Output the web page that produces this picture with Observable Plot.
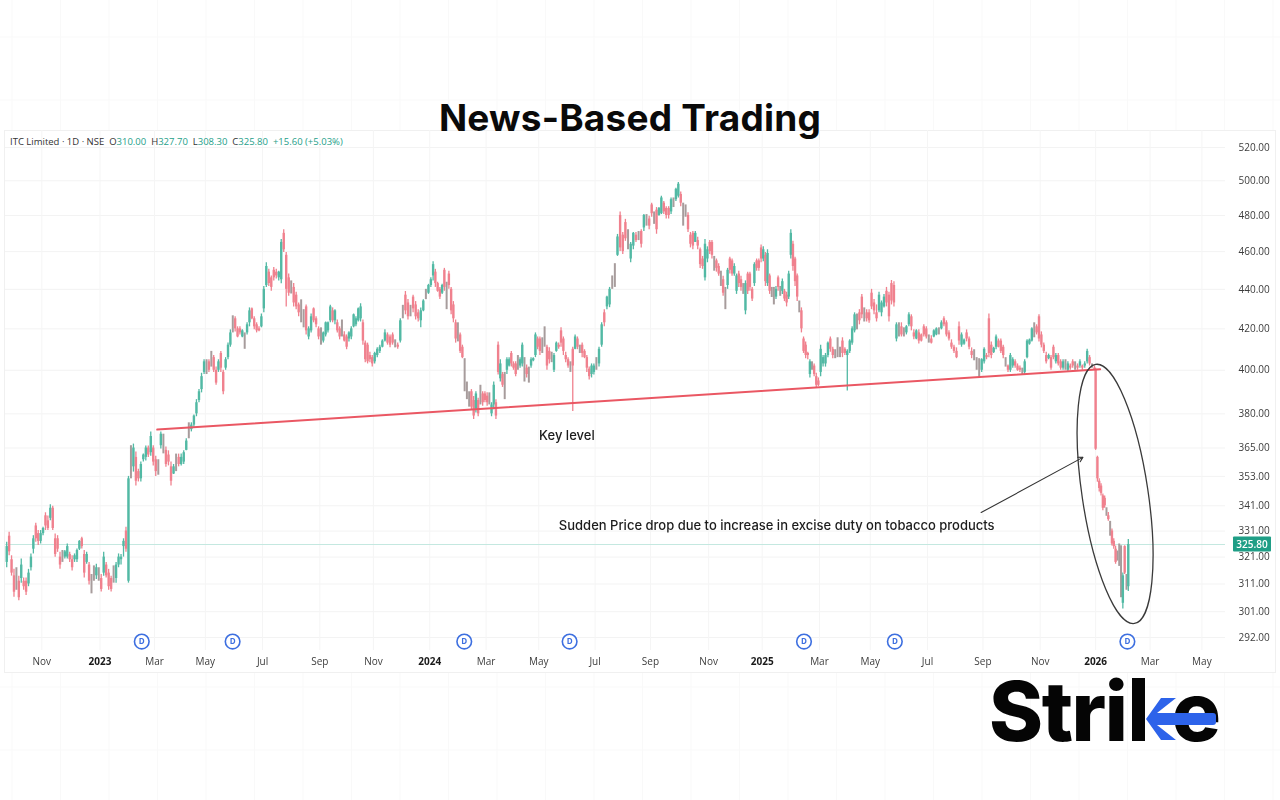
<!DOCTYPE html>
<html>
<head>
<meta charset="utf-8">
<script src="https://cdn.jsdelivr.net/npm/d3@7"></script>
<script src="https://cdn.jsdelivr.net/npm/@observablehq/plot@0.6"></script>
<style>
html,body{margin:0;padding:0;background:#fff;}
#wrap{position:relative;width:1280px;height:800px;overflow:hidden;}
#chart{filter:blur(.3px);}
#title{position:absolute;left:0;width:1260px;top:95px;text-align:center;font:700 37px Inter,sans-serif;color:#0a0a0a;letter-spacing:.2px;}
#legend{position:absolute;left:10px;top:135px;font:500 9.5px "Open Sans",sans-serif;color:#333;white-space:pre;}
#legend b{font-weight:500;color:#26a08a;}
</style>
</head>
<body>
<div id="wrap">
<div id="chart"></div>
<div id="title">News-Based Trading</div>
<div id="legend">ITC Limited · 1D · NSE  O<b>310.00</b>  H<b>327.70</b>  L<b>308.30</b>  C<b>325.80</b>  <b>+15.60 (+5.03%)</b></div>
</div>
<script>
// Each row: open, high, low, close. Open equal to close marks a candle too mixed to read a direction.
const sepDec2022=[[319,326.7,317,325],[329,330.5,321.5,323],[320,321.5,313.9,315],[314,316.4,306.2,308],[313,317,308.7,313],[312,313.8,304.9,306],[313,320.3,311.3,318],[312,313.2,308.7,310],[312,313.2,306.8,308],[311,316.4,310,315],[317,322.2,315.8,321],[324,329.2,322.2,328],[333,334.1,326.7,328],[330,331.2,325.4,327],[327,331.2,326,330],[330,332.5,329.2,332],[337,338.2,331.2,333],[335,336.9,331.2,332],[336,341.4,335,340],[340,340.8,331.2,332],[328,329.9,320.9,322],[328,329.2,322.8,324],[321,322.8,316.4,318],[321,323.5,319,321],[321,323.5,320.3,323],[321,326,320.3,325],[322,322.8,319,320],[320,321.5,315.8,317],[320,322.2,319,321.5],[320,324.1,319,323.5],[324,327.3,323.5,327],[328,328.6,324.1,325],[322,323.5,313.2,315],[319,322.8,318.3,322],[318,319,310.6,312],[311,314.5,307.4,311],[315,317.7,312,315],[314,318.3,312.6,317],[315,317,312,315]];
const janFeb2023=[[313,314.5,308.1,309],[315,322.8,313.8,321],[318,319,313.2,314],[315,316.4,308.7,310],[313,313.8,308.1,309],[314,317.7,311.3,314],[313,319,311.3,318],[318,322.2,317,321],[320,322,318,321],[325,328,321,327],[331,332.5,322.8,324],[312,353,311.3,352],[360,366,352,360],[357,366.7,354.8,365],[361,363.3,349,351],[355,356,350.7,352],[352,359,350.7,358],[360,362.4,359,362],[361,365.9,359.5,365],[365,365.9,361,362],[363,372,361.5,370],[365,366,357.4,359]];
const marApr2023=[[360,361.5,353,355],[357,360,353.5,357],[366,372,364.6,371],[367,371,362.5,367],[364,365.4,356.8,358],[362,363.8,357.4,359],[357,359,349,351],[354,358,353.8,357],[359,362.4,355,359],[361,362.4,357,358],[358,362.4,357.4,361],[359,363.8,358,363],[364,369,363.8,368],[371,376,369,371],[373,376,372,375],[375,379.5,374,379],[380,386.4,378.7,385],[386,391,385,390],[391,398.6,389.5,397],[399,405,398,404]];
const mayJun2023=[[402,405,398,402],[404,405,399,400],[405,409,401.5,405],[406,407,399,400],[400,401.5,393,394],[400,405,399,404],[408,409,399,401],[399,400,388.6,390],[401,406,400,405],[406,413,405,412],[412,419.5,411,418],[422,426.5,418,422],[425,426,418.5,420],[420,421,415.6,416],[420,421,417,418],[416,419.5,415.6,419],[414,418,410,414],[418,423,417,422],[423,430.5,421,429],[430,430.5,424.5,425],[425,426,419.5,421],[422,423,418,419],[420,421,418.6,419],[421,427.4,420.5,426]];
const julAug2023=[[430,441.5,428,440],[442,454,441,452],[449,450.5,441.5,443],[446,447,439,441],[450,451.5,444.4,446],[449,450.5,445.4,447],[446,449.5,444.4,449],[445,466.6,442.9,465],[470,472,459.5,461],[458,459.5,431,440],[446,448,436.4,438],[441,444.4,437.6,441],[441,443,431,433],[437,438.5,429.6,431],[432,433,426,428],[429,434.6,423,429],[425,429.6,420.5,425],[431,432,417,419],[416,421,414.6,420],[419,427.4,418,426],[430,430.5,423,424],[425,426,420.5,422],[420,421,414.6,416]];
const sepOct2023=[[416,420.5,412,416],[414,418.5,413,418],[417,423.4,416,423],[419,423.4,418,423],[424,431.8,423,431],[429,430.5,423,424],[424,429.6,422,429],[423,424.4,418,419],[420,421,414.6,416],[420,424.4,416,420],[417,418.6,413.6,414],[416,417,409.8,411],[415,418.6,413.6,418],[416,421,414.6,420],[421,427.4,420.5,427],[422,426,421,425],[424,430.5,423.4,430],[425,432.6,423.4,431],[423,424.4,412,414],[413,414,403.6,405],[412,413,403,404],[407,408.6,403.6,405],[406,407,401.5,403]];
const novDec2023=[[404,408.6,403,408],[407,410.7,406,410],[409,412,408,411],[411,414.6,410.7,414],[414,419.5,413.6,418],[417,418,412,413],[416,417,410.7,412],[417,418,412,413],[412,414.6,410.7,412],[412,413,410,411],[414,425,413,424],[428,431.8,425,428],[437,438.9,427,429],[433,434.8,424.4,426],[428,431.8,426,428],[436,437,428,430],[432,433.7,424.4,426],[428,429.6,423.4,425],[424,430.5,420.5,429],[429,434.7,428.5,434],[436,440,434.7,436],[438,442.6,437.4,442]];
const janFeb2024=[[442,446,441,445],[447,454.6,444.4,453],[449,450.5,441,443],[443,443.7,438.5,439],[440,441,434.8,436],[438,442.6,437.4,442],[450,451,439,441],[435,443.7,429.6,435],[448,449.5,440,442],[440,441,427,429],[432,433.7,423,425],[423,424.4,413,415],[417,423,413.6,417],[417,418,408,409],[411,412,405.5,406],[398,405.5,390,398],[390,394.5,386.4,390],[386,390,383,386],[390,391,381.8,383],[386,387.8,377.5,379],[382,390,380.4,389],[386,387,378.7,380],[388,393,384,388],[389,390,383.4,385],[389,390,385,386]];
const marApr2024=[[388,389.5,383.4,385],[387,389.5,384,387],[380,385,378.7,384],[384,394.5,381.8,393],[385,386.4,377.5,379],[412,413.6,397.8,399],[396,405,394.5,403],[398,399,392,393],[392,399,386.4,392],[400,406,398,405],[402,406,401.5,405],[408,409,401.5,403],[403,404,400,401],[403,404,397,398],[403,407,400,403],[402,406,401,405],[403,413,401.5,412],[400,406,394.5,400],[401,402.5,396.4,398],[398,401.5,394,398],[402,406,401,405],[404.5,406,404,405.5],[407,418,406,417],[415,416,409.8,411]];
const mayJun2024=[[415,416,407,409],[412,415.6,408,412],[416,421,411,416],[411,412,400,402],[409,410.7,403,405],[406,408.6,403.6,406],[400,408,399,407],[409,413.6,408.6,413],[412,413,410,411],[419,420.5,411,413],[415,416,407,409],[407,408.6,403.6,405],[405,406,401,402],[402,404,399,402],[410,411,381,402],[410,417,409.8,416],[415,416,409.8,411],[410,412,408,410],[412,413,406,408],[409,409.8,405.5,406],[406,407,399,401],[400.5,401.5,395.4,397],[398,403,396.4,402],[399,403,397.8,402]];
const julAug2024=[[403,406,400,403],[403,411,401.5,410],[412,423,411,422],[428,429.6,421,423],[431,436.4,429.6,436],[432,441,430.6,440],[443,447,440,443],[447,453.5,441,447],[458,469.4,457.4,468],[480,482,460,462],[469,470.5,458.4,460],[476,477.8,465.6,467],[466,472,461,466],[456,465,454,464],[463,470.5,461,470],[469,470.5,465,466],[468,471,466,468],[471,472,462,464],[473,480.5,471,480],[477,480.5,474,477],[478,479.5,472,474]];
const sepOct2024=[[486,487,479,481],[478,482,475,478],[483,484.5,469.5,472],[480,484.5,479.5,484],[481,491,480.5,490],[487,488,480.5,482],[484,485,478,480],[484,485,478,480],[482,490,480.5,489],[487,490,484.5,487],[489,495.6,488,495],[491,499,490,498],[492,493.4,485,487],[480,487,474,480],[483,486,479,483],[480,481.6,470.5,472],[469,470.5,462,464],[470,471,461,463],[465,471,465,470],[466,467.8,461,463],[461,462,451,453],[456,457.4,450.5,452],[446,466.6,444.4,464],[456,462.6,454,461]];
const novDec2024=[[465,466,458.4,460],[465,466,456,458],[453,457.4,449.5,453],[455,456,449,451],[452,453.5,446.8,448],[445,449.5,441.5,445],[445,446.8,436.4,438],[435,441,429.6,435],[442,451,440,450],[456,457,448,450],[455,456,446.8,448],[448,453.5,446.8,452],[439,448,437.4,447],[448,449.5,441,443],[445,446.8,439,441],[440,443,437.4,440],[429,444.4,427,443],[448,449,437.4,439],[448,449,439,441],[440,441,433.7,435],[443,454,441.5,453],[455,456,449.5,451],[455,456,449.5,451],[462,463.6,454,456]];
const janFeb2025=[[456,462.6,454.6,461],[458,459.5,441.5,444],[443,461,441.5,459],[447,448,437.4,439],[438,441,435.8,438],[436,441,432,436],[436,441.5,434.8,440],[446,447,439,441],[439,441.5,436.4,439],[439,445.4,437.4,444],[439,440,433.7,435],[437,438.5,431,433],[436,449.5,434.8,448],[458,472,456,470],[464,465.6,449.5,452],[456,457,441.5,444],[447,448,433.7,436],[431,434,428,431],[429,430.5,418,420],[415,416,408,409],[412,413.6,405.5,407],[408,408.6,405,407],[398,405,396.4,404],[402,404,400,402],[402,403,397,398],[397,398.6,392,393],[395,396.4,392.4,393]];
const marApr2025=[[399,412,397,410],[403,407,401.5,406],[403,408,401.5,407],[407,413.6,406,413],[415,416,408.6,410],[410,411,405.5,407],[407,409.8,405.5,407],[410,415.6,406,410],[408,411,406,408],[414,415.6,406,408],[410,410.7,407,408],[407,409.8,390.4,409],[409,414.6,408,414],[413,421,412,420],[419,428,418,427],[423,427.4,419.5,423],[428,429.6,422,424],[436,437.4,425,427],[427,430.5,423.4,427],[428,429.6,423.4,425],[428,429.6,422.8,424]];
const mayJun2025=[[438,440,429.6,431],[433,434.8,427,429],[428,432,423.4,425],[429,438.5,428,437],[428,434,426,433],[431,437.4,430.5,436],[439,441,431,433],[437,438.5,423.4,426],[443,444.6,432,434],[442,444,431,433],[415,423,413.6,422],[419,423,416,419],[421,423,416,417],[418,420.5,416,418],[418,421.6,417,421],[422,428,421,427],[426,427,419,421],[418,419.5,414.6,416],[415,419.5,414.6,419],[418,419.5,412.6,414],[417,417.5,413.6,414],[421,422,416,417],[420,421,415,416]];
const julAug2025=[[415,417,413,415],[415,416.6,412.6,413],[416,419.5,415.6,419],[417,420.5,416.6,420],[419,420.5,417,419],[420,424,419.5,423],[425,426,421,422],[423,424,416,417],[418,419,414,415],[413,414.6,410,411],[411,412,408,409],[409,410.7,405.5,406],[421,423.4,412,414],[412,418,411,417],[412.5,415,412,414.5],[418,419.5,413.6,415],[415,416,409.8,411],[409,410.7,405.5,407],[407,409.8,404.5,407],[403,406,400,403],[401,405.5,396.4,401],[400,405.5,399,405]];
const sepOct2025=[[404,410.7,403,410],[407,408,405,406],[425,427.4,406,408],[412,413.6,405.5,407],[408.5,411,408,410.5],[411,417,409.8,416],[414,415,410.7,411],[414,415,408,409],[411,412,405.5,407],[404,406,401.5,404],[402,402.5,399,400],[400,408,399,407],[402,406,401,405],[404,405,401,402],[402,403,399.5,400],[401,402,399,400],[399,401,397.8,399],[399,405,397.8,404],[406,414.6,405.5,414],[412.5,415,412,414.5],[414,420.5,413.6,420],[419,423,415.6,419],[421,422,417,418],[426,427,413.6,415]];
const novDec2025=[[417,418.5,410.7,412],[412,413,408,409],[407,408.6,403,404],[405.5,407.7,405,407],[406,407,400,401],[411,412,405,406],[404,408,403,407],[407,408,402,403],[404,405,400,401],[401,405,400,404],[402,405,400,402],[400,404,399,403],[402,403,400,401],[404,405,401,402],[402,404,400,402],[402,403,400,401],[402,405,401,404],[402,402.5,400,401],[402,404,401,403],[404,410,403,409],[406,407,402,403],[402,403,401,402],[401,402,400,400.5]];
const janFeb2026=[[400,401,364,364.5],[361,361.5,350.6,352],[351,352,346.6,348],[349,350,345,346],[345,345.8,339,340],[344,345,340,341],[338,340.2,336.8,338],[337,338.3,334.8,335.5],[332,334.8,329,332],[331,331.8,325.2,326],[327,328,324,325],[324,325.2,318.3,319],[321,323.3,319.5,321],[322,326,317.5,322],[311,325.3,306,311],[304,315,302,314],[325,325.3,314.5,315],[311,314.5,308.7,311],[310,327.7,308.3,325.8]];

const segments=[
 ["2022-09-19","2023-01-01",sepDec2022],["2023-01-01","2023-03-02",janFeb2023],["2023-03-02","2023-04-27",marApr2023],
 ["2023-04-27","2023-06-29",mayJun2023],["2023-06-29","2023-08-31",julAug2023],["2023-08-31","2023-10-29",sepOct2023],
 ["2023-10-29","2023-12-30",novDec2023],["2023-12-30","2024-03-01",janFeb2024],["2024-03-01","2024-04-28",marApr2024],
 ["2024-04-28","2024-06-29",mayJun2024],["2024-06-29","2024-08-29",julAug2024],["2024-08-29","2024-11-01",sepOct2024],
 ["2024-11-01","2024-12-30",novDec2024],["2024-12-30","2025-03-03",janFeb2025],["2025-03-03","2025-04-28",marApr2025],
 ["2025-04-28","2025-06-30",mayJun2025],["2025-06-30","2025-08-30",julAug2025],["2025-08-30","2025-11-01",sepOct2025],
 ["2025-11-01","2026-01-01",novDec2025],["2025-12-31","2026-02-07",janFeb2026]
];
const priceTicks=[520,500,480,460,440,420,400,380,365,353,341,331,321,311,301,292];
// Tick labels sit on the first session shown for each month.
const monthTicks=[["2022-10-29","Nov"],["2023-03-02","Mar"],["2023-04-27","May"],["2023-06-29","Jul"],["2023-08-31","Sep"],["2023-10-29","Nov"],["2024-03-01","Mar"],["2024-04-28","May"],["2024-06-29","Jul"],["2024-08-29","Sep"],["2024-11-01","Nov"],["2025-03-03","Mar"],["2025-04-28","May"],["2025-06-30","Jul"],["2025-08-30","Sep"],["2025-11-01","Nov"],["2026-03-02","Mar"],["2026-04-28","May"]];
const yearTicks=[["2023-01-01","2023"],["2023-12-30","2024"],["2024-12-30","2025"],["2026-01-01","2026"]];
const dividendDates=["2023-02-16","2023-05-27","2024-02-06","2024-06-01","2025-02-14","2025-05-25","2026-02-05"];
const dividendLevel=290.6;
const keyLevel=[["2023-03-05",373],["2026-01-06",400.5]];
const lastClose=325.8;
const notes=[["2024-05-29",370.4,"Key level"],["2025-01-15",333,"Sudden Price drop due to increase in excise duty on tobacco products"]];
const arrowFrom=["2025-08-28",338.3], arrowTo=["2025-12-18",361];
const oval={date:"2026-01-23",price:345.6};

const parse=d3.utcParse("%Y-%m-%d");
const bars=segments.flatMap(([a,b,rows])=>{
  const t0=+parse(a),t1=+parse(b);
  return rows.map((r,i)=>({date:new Date(t0+(i+.5)*(t1-t0)/rows.length),o:r[0],h:r[1],l:r[2],c:r[3],
    dir:r[0]===r[3]?"mixed":(r[3]>r[0]?"up":"down")}));
});
const tickMap=new Map([...monthTicks,...yearTicks].map(([d,l])=>[+parse(d),l]));
const monthDates=monthTicks.map(d=>parse(d[0])), yearDates=yearTicks.map(d=>parse(d[0]));
const allTicks=[...monthDates,...yearDates];
const tickText=d=>tickMap.get(+d);

const svgEl=(n,attrs)=>{const e=d3.create("svg:"+n);for(const k in attrs)e.attr(k,attrs[k]);return e;};

function chrome(){ // faint page grid and the chart's frame
  const g=d3.create("svg:g");
  const vs=[...d3.range(12,1280,48.5)], hs=[37,100,687,750];
  vs.forEach(v=>{[[0,130],[672,800]].forEach(([a,b])=>g.append(()=>svgEl("line",{x1:v,x2:v,y1:a,y2:b,stroke:"#f9f9f9"}).node()));});
  hs.forEach(h=>g.append(()=>svgEl("line",{x1:0,x2:1280,y1:h,y2:h,stroke:"#f9f9f9"}).node()));
  g.append(()=>svgEl("rect",{x:4.5,y:130.5,width:1271,height:542,fill:"#fff",stroke:"#f0f0f0"}).node());
  return g.node();
}
function ovalMark(i,s){
  const cx=s.x(parse(oval.date)),cy=s.y(oval.price);
  return svgEl("ellipse",{cx,cy,rx:33,ry:131,fill:"none",stroke:"#3a3a3a","stroke-width":1.3,transform:`rotate(-8.5 ${cx} ${cy})`}).node();
}
function lastLabel(i,s){
  const y=s.y(lastClose),g=d3.create("svg:g");
  g.append(()=>svgEl("rect",{x:1233,y:y-7.5,width:38,height:15,fill:"#1f9e86",rx:1}).node());
  g.append(()=>svgEl("text",{x:1252,y:y+3.6,"text-anchor":"middle",fill:"#fff","font-size":10,"font-family":"Open Sans, sans-serif","font-weight":600}).text(lastClose.toFixed(2)).node());
  return g.node();
}
function logo(){
  const g=d3.create("svg:g");
  const t=svgEl("text",{x:989,y:741,"text-anchor":"start","font-size":82,"font-weight":800,"font-family":"Inter, sans-serif",fill:"#050505","letter-spacing":-1.5});
  t.append("tspan").text("Stri");
  t.append("tspan").attr("fill","none").text("k");
  t.append("tspan").text("e");
  g.append(()=>t.node());
  return g.node();
}
function logoK(){
  const g=d3.create("svg:g");
  g.append(()=>svgEl("rect",{x:1132,y:678,width:13,height:63,fill:"#050505"}).node());
  g.append(()=>svgEl("path",{d:"M1146 719 L1161 698 L1176 698 L1157 713 L1213 713 Q1216 713 1216 716 L1216 722 Q1216 725 1213 725 L1157 725 L1176 740 L1161 740 Z",fill:"#2d63ea"}).node());
  return g.node();
}

const plot=Plot.plot({
  width:1280,height:800,
  marginTop:130,marginBottom:150,marginLeft:5,marginRight:55,
  style:{background:"#fff",fontFamily:"'Open Sans',sans-serif",overflow:"visible"},
  x:{type:"utc",domain:[parse("2022-09-19"),parse("2026-05-24")],range:[5,1225],label:null},
  y:{type:"log",domain:[292,520],range:[637,147],label:null},
  color:{domain:["up","down","mixed"],range:["#52b9a4","#f0818e","#a79c9c"]},
  marks:[
    chrome,
    Plot.gridY({ticks:priceTicks,stroke:"#f3f3f3",strokeOpacity:1}),
    Plot.gridX({ticks:allTicks,stroke:"#f5f5f5",strokeOpacity:1}),
    Plot.ruleY([lastClose],{stroke:"#c4e8e0",strokeWidth:1}),
    Plot.ruleX(bars,{x:"date",y1:"l",y2:"h",stroke:"dir",strokeWidth:d=>d.dir==="mixed"?2:1.3}),
    Plot.ruleX(bars,{x:"date",y1:"o",y2:"c",stroke:"dir",strokeWidth:2.4}),
    Plot.line(keyLevel,{x:d=>parse(d[0]),y:d=>d[1],stroke:"#ea5763",strokeWidth:2}),
    ovalMark,
    Plot.arrow([0],{x1:()=>parse(arrowFrom[0]),y1:()=>arrowFrom[1],x2:()=>parse(arrowTo[0]),y2:()=>arrowTo[1],stroke:"#333",strokeWidth:1.1,bend:0,headLength:7}),
    Plot.text(notes,{x:d=>parse(d[0]),y:d=>d[1],text:d=>d[2],fontSize:13,fontWeight:500,fill:"#1c1c1c",fontFamily:"Inter,sans-serif"}),
    Plot.dot(dividendDates,{x:d=>parse(d),y:()=>dividendLevel,r:7.3,fill:"#fff",stroke:"#3d6fe0",strokeWidth:1.6}),
    Plot.text(dividendDates,{x:d=>parse(d),y:()=>dividendLevel,text:()=>"D",fill:"#3d6fe0",fontSize:8,fontWeight:700}),
    Plot.axisY({ticks:priceTicks,anchor:"right",tickSize:0,tickPadding:13,tickFormat:d3.format(".2f"),fontSize:10,fill:"#3c3c3c",label:null}),
    lastLabel,
    Plot.axisX({ticks:monthDates,anchor:"bottom",tickSize:0,tickPadding:7,tickFormat:tickText,fontSize:10,fill:"#3c3c3c",label:null}),
    Plot.axisX({ticks:yearDates,anchor:"bottom",tickSize:0,tickPadding:7,tickFormat:tickText,fontSize:10,fontWeight:700,fill:"#1a1a1a",label:null}),
    logo,logoK
  ]
});
document.getElementById("chart").appendChild(plot);
</script>
</body>
</html>
